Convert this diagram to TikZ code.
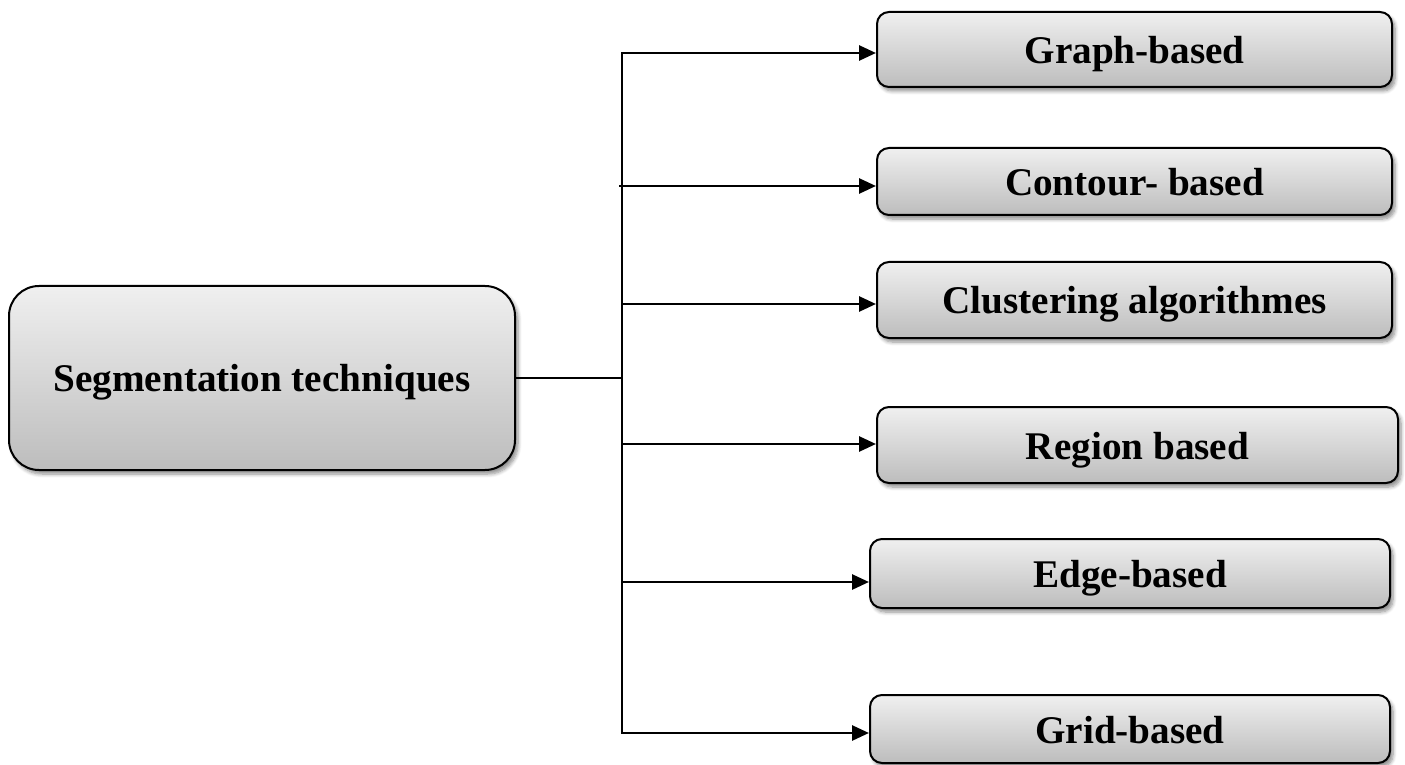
\documentclass[tikz,border=0pt]{standalone}
\usepackage{fontspec}
\setmainfont{Liberation Serif}
\usetikzlibrary{arrows.meta,shadows.blur}
\begin{document}
\begin{tikzpicture}[x=0.5pt,y=-0.5pt,
  box/.style={draw=black, line width=1pt, rounded corners=6pt,
    top color=black!6, bottom color=black!26,
    blur shadow={shadow xshift=1.5pt, shadow yshift=-2pt, shadow blur steps=6, shadow opacity=45},
    font=\bfseries\fontsize{19.6pt}{22pt}\selectfont, inner sep=0pt, align=center,
    text height=14pt, text depth=0pt},
  conn/.style={line width=1.4pt, draw=black},
  arr/.style={conn, -{Triangle[length=8.5pt,width=7.5pt]}}]
\useasboundingbox (0,0) rectangle (1405,765);
% main box
\node[box, rounded corners=15pt, minimum width=253pt, minimum height=92pt] (main) at (262,378) {Segmentation techniques};
% right boxes
\node[box, minimum width=257.5pt, minimum height=37.5pt] (g1) at (1134.5,49.5) {Graph-based};
\node[box, minimum width=257.5pt, minimum height=33.5pt] (g2) at (1134.5,181.5) {Contour- based};
\node[box, minimum width=257.5pt, minimum height=38pt] (g3) at (1134.5,300) {Clustering algorithmes};
\node[box, minimum width=260.5pt, minimum height=38pt] (g4) at (1137.5,445) {Region based};
\node[box, minimum width=260pt, minimum height=34.5pt] (g5) at (1130,573.5) {Edge-based};
\node[box, minimum width=260pt, minimum height=34pt] (g6) at (1130,729) {Grid-based};
% trunk
\coordinate (t1) at (622,53);
\coordinate (t2) at (619,186);
\coordinate (t3) at (622,304);
\coordinate (t4) at (622,444);
\coordinate (t5) at (622,582);
\coordinate (t6) at (622,733);
\draw[conn] (main.east) -- (main.east -| t1);
\draw[conn, line cap=rect] (t1) -- (t6);
\draw[arr] (t1) -- (t1 -| g1.west);
\draw[arr] (t2) -- (t2 -| g2.west);
\draw[arr] (t3) -- (t3 -| g3.west);
\draw[arr] (t4) -- (t4 -| g4.west);
\draw[arr] (t5) -- (t5 -| g5.west);
\draw[arr] (t6) -- (t6 -| g6.west);
\end{tikzpicture}
\end{document}
